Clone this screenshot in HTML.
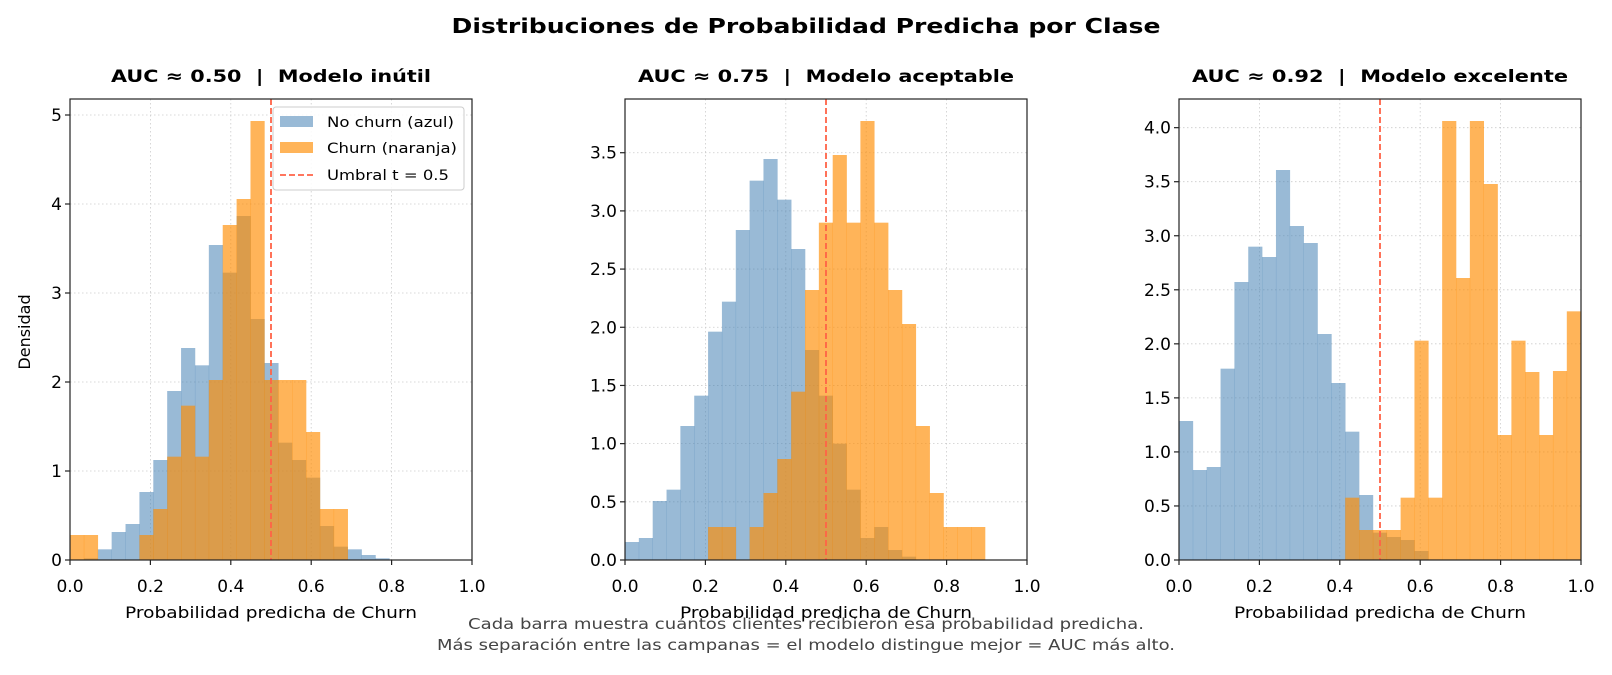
<!DOCTYPE html>
<html><head><meta charset="utf-8"><style>
html,body{margin:0;padding:0;background:#fff;}
svg text{font-family:"DejaVu Sans","Liberation Sans",sans-serif;}
.pre{white-space:pre;}
</style></head><body>
<svg id="s" width="1612" height="670" xmlns="http://www.w3.org/2000/svg">
<text x="806" y="33" text-anchor="middle" font-size="20" font-weight="bold" textLength="709" lengthAdjust="spacingAndGlyphs">Distribuciones de Probabilidad Predicha por Clase</text>
<text class="pre" x="271" y="82" text-anchor="middle" font-size="17" font-weight="bold" textLength="320" lengthAdjust="spacingAndGlyphs">AUC ≈ 0.50  |  Modelo inútil</text>
<text class="pre" x="826" y="82" text-anchor="middle" font-size="17" font-weight="bold" textLength="376" lengthAdjust="spacingAndGlyphs">AUC ≈ 0.75  |  Modelo aceptable</text>
<text class="pre" x="1380" y="82" text-anchor="middle" font-size="17" font-weight="bold" textLength="376" lengthAdjust="spacingAndGlyphs">AUC ≈ 0.92  |  Modelo excelente</text>
<text transform="translate(30,332) rotate(-90)" text-anchor="middle" font-size="16">Densidad</text>
<text x="806" y="629" text-anchor="middle" font-size="15" fill="#444" textLength="676" lengthAdjust="spacingAndGlyphs">Cada barra muestra cuántos clientes recibieron esa probabilidad predicha.</text>
<text x="806" y="650" text-anchor="middle" font-size="15" fill="#444" textLength="738" lengthAdjust="spacingAndGlyphs">Más separación entre las campanas = el modelo distingue mejor = AUC más alto.</text>
</svg>
<script>
var S=document.getElementById('s'),NS='http://www.w3.org/2000/svg';
function el(t,a,txt){var e=document.createElementNS(NS,t);for(var k in a)e.setAttribute(k,a[k]);if(txt!=null)e.textContent=txt;S.appendChild(e);return e;}
var n=null;
var P=[
{ox:60,x0:70,x1:472,s:30,st:41.65,dash:271,
 yt:[0,1,2,3,4,5],yl:['0','1','2','3','4','5'],ys:267,
 b:[n,1405,1378,1326,1302,1206,1110,903,774,826,465,548,378,687,819,1058,1110,1163,1308,1370,1378,1395,1405],
 o:[1335,1335,n,n,n,1335,1257,1100,947,1100,870,405,327,93,870,870,870,1026,1257,1257]},
{ox:600,x0:625,x1:1027,s:75,st:41.54,dash:826,
 yt:[0,.5,1,1.5,2,2.5,3,3.5],yl:['0.0','0.5','1.0','1.5','2.0','2.5','3.0','3.5'],ys:349.1,
 b:[1356,1344,1233,1199,1008,917,725,635,420,272,207,329,477,780,917,1061,1199,1344,1311,1380,1400],
 o:[n,n,n,n,n,n,1311,1311,n,1311,1209,1107,905,600,398,195,398,93,398,600,702,1008,1209,1311,1311,1311]},
{ox:1140,x0:1179,x1:1581,s:117,st:41.55,dash:1380,
 yt:[0,.5,1,1.5,2,2.5,3,3.5,4],yl:['0.0','0.5','1.0','1.5','2.0','2.5','3.0','3.5','4.0'],ys:324.25,
 b:[993,1140,1131,836,576,470,501,240,408,459,732,879,1025,1215,1328,1341,1350,1383],
 o:[n,n,n,n,n,n,n,n,n,n,n,n,1223,1320,1320,1320,1223,752,1223,93,564,93,282,1035,752,846,1035,843,664]}
];
var TOP=99,BOT=560;
P.forEach(function(p,pi){
  var w=p.x1-p.x0;
  for(var k=1;k<5;k++){var gx=p.x0+w*k/5;el('line',{x1:gx,x2:gx,y1:TOP,y2:BOT,stroke:'#ccc','stroke-width':0.8,'stroke-dasharray':'1.5,2.5'});}
  p.yt.forEach(function(v,i){var gy=90+(1410-p.ys*v)/3;
    if(v>0)el('line',{x1:p.x0,x2:p.x1,y1:gy,y2:gy,stroke:'#ccc','stroke-width':0.8,'stroke-dasharray':'1.5,2.5'});
    el('line',{x1:p.x0-5,x2:p.x0,y1:gy,y2:gy,stroke:'#222','stroke-width':1.2});
    el('text',{x:p.x0-8,y:gy+6,'text-anchor':'end','font-size':17},p.yl[i]);
  });
  function bars(arr,fill){arr.forEach(function(z,i){if(z==null)return;
    var xa=p.ox+(p.s+p.st*i)/3,xb=p.ox+(p.s+p.st*(i+1))/3;if(xb>p.x1)xb=p.x1;
    var y=90+z/3;el('rect',{x:xa,y:y,width:xb-xa+0.3,height:BOT-y,fill:fill});});}
  bars(p.b,'rgba(70,130,180,0.55)');
  bars(p.o,'rgba(255,140,0,0.65)');
  el('line',{x1:p.dash,x2:p.dash,y1:TOP,y2:BOT,stroke:'#ff6347','stroke-width':1.8,'stroke-dasharray':'6,3'});
  el('rect',{x:p.x0,y:TOP,width:w,height:BOT-TOP,fill:'none',stroke:'#222','stroke-width':1.2});
  for(var k=0;k<=5;k++){var tx=p.x0+w*k/5;
    el('line',{x1:tx,x2:tx,y1:BOT,y2:BOT+5,stroke:'#222','stroke-width':1.2});
    el('text',{x:tx,y:592,'text-anchor':'middle','font-size':17},(k/5).toFixed(1));}
  el('text',{x:(p.x0+p.x1)/2,y:618,'text-anchor':'middle','font-size':16,textLength:292,lengthAdjust:'spacingAndGlyphs'},'Probabilidad predicha de Churn');
});
el('rect',{x:273,y:107,width:191,height:83,rx:3,fill:'rgba(255,255,255,0.85)',stroke:'#ccc','stroke-width':1});
el('rect',{x:280,y:116,width:33,height:11,fill:'rgba(70,130,180,0.55)'});
el('rect',{x:280,y:142,width:33,height:11,fill:'rgba(255,140,0,0.65)'});
el('line',{x1:280,x2:313,y1:175,y2:175,stroke:'#ff6347','stroke-width':1.8,'stroke-dasharray':'6,3'});
el('text',{x:327,y:127,'font-size':14,textLength:127,lengthAdjust:'spacingAndGlyphs'},'No churn (azul)');
el('text',{x:327,y:153,'font-size':14,textLength:130,lengthAdjust:'spacingAndGlyphs'},'Churn (naranja)');
el('text',{x:327,y:180,'font-size':14,textLength:122,lengthAdjust:'spacingAndGlyphs'},'Umbral t = 0.5');
</script>
</body></html>
